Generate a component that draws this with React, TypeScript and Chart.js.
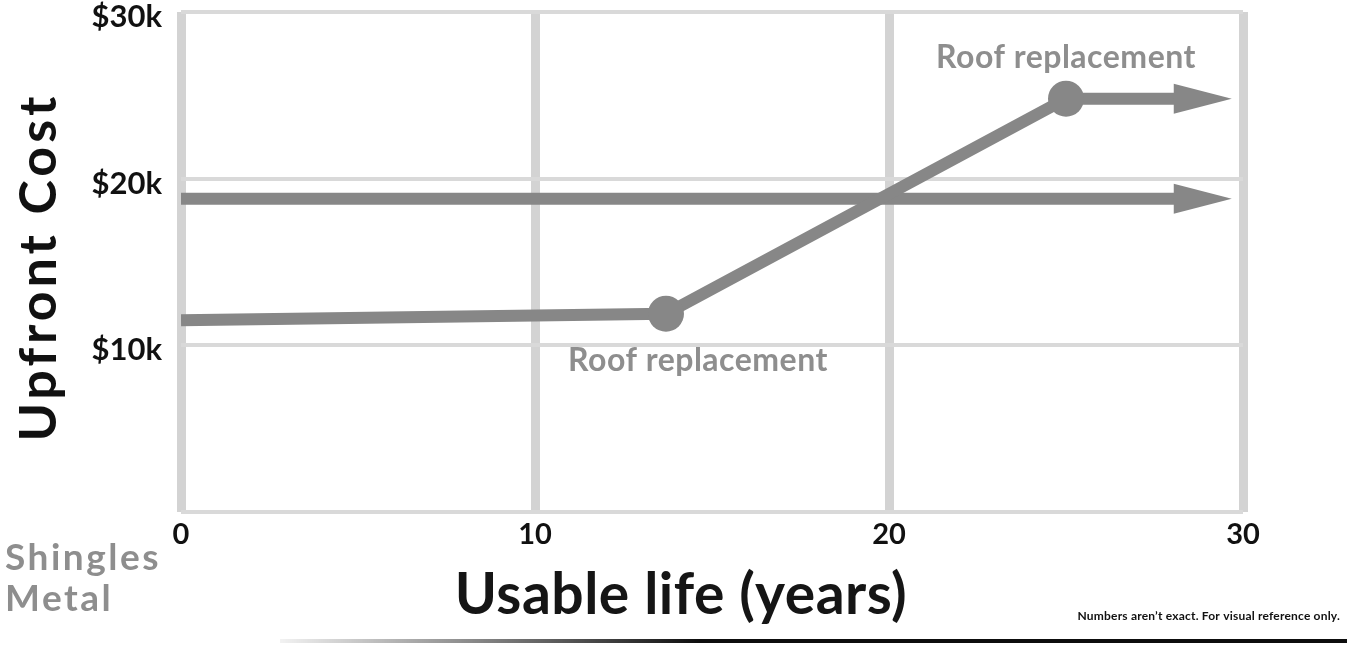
import { useEffect, useRef } from 'react';
import { Chart, registerables } from 'chart.js';

Chart.register(...registerables);

// ---- data ----
const seriesNames = ['Shingles', 'Metal'];
const shinglesYears = [0, 13.7, 25, 28.1];
const shinglesCost = [11.5, 11.9, 24.8, 24.8];
const metalYears = [0, 28.1];
const metalCost = [18.8, 18.8];
const xTickValues = [0, 10, 20, 30];
const yTickValues = [0, 10, 20, 30];
const eventIndexes = [1, 2];
const eventLabels = ['Roof replacement', 'Roof replacement'];
const xTitle = 'Usable life (years)';
const yTitle = 'Upfront Cost';
const noteText = 'Numbers aren\u2019t exact. For visual reference only.';

const FONT = 'Lato, "Open Sans", "DejaVu Sans", sans-serif';
const LINE_GRAY = '#878787';
const TEXT_GRAY = '#8e8e8e';

const decorPlugin = {
  id: 'decor',
  afterDatasetsDraw(chart: any) {
    const ctx = chart.ctx as CanvasRenderingContext2D;
    // arrow heads at the end of every series
    chart.data.datasets.forEach((ds: any, i: number) => {
      const pts = chart.getDatasetMeta(i).data;
      const a = pts[pts.length - 2];
      const b = pts[pts.length - 1];
      const ang = Math.atan2(b.y - a.y, b.x - a.x);
      ctx.save();
      ctx.translate(b.x, b.y);
      ctx.rotate(ang);
      ctx.beginPath();
      ctx.moveTo(-2, -15);
      ctx.lineTo(56, 0);
      ctx.lineTo(-2, 15);
      ctx.closePath();
      ctx.fillStyle = ds.borderColor;
      ctx.fill();
      ctx.restore();
    });
    // event annotations on the shingles series
    const meta = chart.getDatasetMeta(0);
    const offsets = [
      { dx: 32, dy: 57 },
      { dx: 0, dy: -31 },
    ];
    ctx.save();
    ctx.font = `bold 32px ${FONT}`;
    ctx.fillStyle = TEXT_GRAY;
    ctx.textAlign = 'center';
    ctx.textBaseline = 'alphabetic';
    (ctx as any).letterSpacing = '0.5px';
    eventIndexes.forEach((idx, k) => {
      const p = meta.data[idx];
      ctx.fillText(eventLabels[k], p.x + offsets[k].dx, p.y + offsets[k].dy);
    });
    ctx.restore();
  },
  afterDraw(chart: any) {
    const ctx = chart.ctx as CanvasRenderingContext2D;
    const area = chart.chartArea;
    // y axis title
    ctx.save();
    ctx.translate(39, (area.top + area.bottom) / 2 + 5);
    ctx.rotate(-Math.PI / 2);
    ctx.font = `bold 52px ${FONT}`;
    (ctx as any).letterSpacing = '4px';
    ctx.fillStyle = '#111';
    ctx.textAlign = 'center';
    ctx.textBaseline = 'middle';
    ctx.fillText(yTitle, 0, 0);
    ctx.restore();
    // x axis title
    ctx.save();
    ctx.font = `bold 57px ${FONT}`;
    (ctx as any).letterSpacing = '0.5px';
    ctx.fillStyle = '#151515';
    ctx.textAlign = 'center';
    ctx.textBaseline = 'alphabetic';
    ctx.fillText(xTitle, 681, 614);
    ctx.restore();
    // legend labels (text only, as in the reference)
    ctx.save();
    ctx.font = `bold 37px ${FONT}`;
    (ctx as any).letterSpacing = '2.5px';
    ctx.fillStyle = TEXT_GRAY;
    ctx.textAlign = 'left';
    ctx.textBaseline = 'alphabetic';
    chart.data.datasets.forEach((ds: any, i: number) => {
      ctx.fillText(ds.label, 5, 570 + i * 41);
    });
    ctx.restore();
    // footnote
    ctx.save();
    ctx.font = `bold 12px ${FONT}`;
    (ctx as any).letterSpacing = '0.2px';
    ctx.fillStyle = '#111';
    ctx.textAlign = 'right';
    ctx.textBaseline = 'middle';
    ctx.fillText(noteText, 1340, 616);
    ctx.restore();
    // bottom rule
    ctx.save();
    const g = ctx.createLinearGradient(280, 0, 700, 0);
    g.addColorStop(0, 'rgba(0,0,0,0.05)');
    g.addColorStop(1, 'rgba(0,0,0,0.95)');
    ctx.fillStyle = g;
    ctx.fillRect(280, 639, 1067, 4);
    ctx.restore();
  },
};

export default function App() {
  const ref = useRef<HTMLCanvasElement>(null);

  useEffect(() => {
    if (!ref.current) return;
    const chart = new Chart(ref.current, {
      type: 'line',
      data: {
        datasets: [
          {
            label: seriesNames[0],
            data: shinglesYears.map((x, i) => ({ x, y: shinglesCost[i] })),
            borderColor: LINE_GRAY,
            backgroundColor: LINE_GRAY,
            borderWidth: 12,
            borderCapStyle: 'butt',
            borderJoinStyle: 'round',
            pointRadius: shinglesYears.map((_, i) => (eventIndexes.includes(i) ? 18 : 0)),
            pointBorderWidth: 0,
            pointBackgroundColor: LINE_GRAY,
            tension: 0,
            fill: false,
          },
          {
            label: seriesNames[1],
            data: metalYears.map((x, i) => ({ x, y: metalCost[i] })),
            borderColor: LINE_GRAY,
            backgroundColor: LINE_GRAY,
            borderWidth: 12,
            borderCapStyle: 'butt',
            pointRadius: 0,
            tension: 0,
            fill: false,
          },
        ],
      },
      options: {
        responsive: false,
        animation: false,
        events: [],
        layout: { padding: { top: 12, right: 104, bottom: 0, left: 0 } },
        plugins: {
          legend: { display: false },
          tooltip: { enabled: false },
          title: { display: false },
        },
        scales: {
          x: {
            type: 'linear',
            min: xTickValues[0],
            max: xTickValues[xTickValues.length - 1],
            afterBuildTicks: (s: any) => {
              s.ticks = xTickValues.map((v) => ({ value: v }));
            },
            ticks: {
              color: '#111',
              font: { family: FONT, size: 29, weight: 'bold' },
              padding: 5,
              maxRotation: 0,
            },
            grid: { color: '#d3d3d3', lineWidth: 9, drawTicks: false },
            border: { display: false },
            afterFit: (s: any) => {
              s.height = 133;
            },
          },
          y: {
            type: 'linear',
            min: yTickValues[0],
            max: yTickValues[yTickValues.length - 1],
            afterBuildTicks: (s: any) => {
              s.ticks = yTickValues.map((v) => ({ value: v }));
            },
            ticks: {
              color: '#111',
              font: { family: FONT, size: 31, weight: 'bold' },
              padding: 19,
              labelOffset: 5,
              callback: (v: any) => (Number(v) === 0 ? '' : `$${v}k`),
            },
            grid: { color: '#d9d9d9', lineWidth: 4, drawTicks: false },
            border: { display: false },
            afterFit: (s: any) => {
              s.width = 181;
              s.paddingTop = 0;
              s.paddingBottom = 0;
            },
          },
        },
      },
      plugins: [decorPlugin],
    } as any);
    return () => chart.destroy();
  }, []);

  return (
    <div style={{ position: 'fixed', left: 0, top: 0, width: 1347, height: 645, background: '#fff' }}>
      <canvas ref={ref} width={1347} height={645} style={{ display: 'block' }} />
    </div>
  );
}
